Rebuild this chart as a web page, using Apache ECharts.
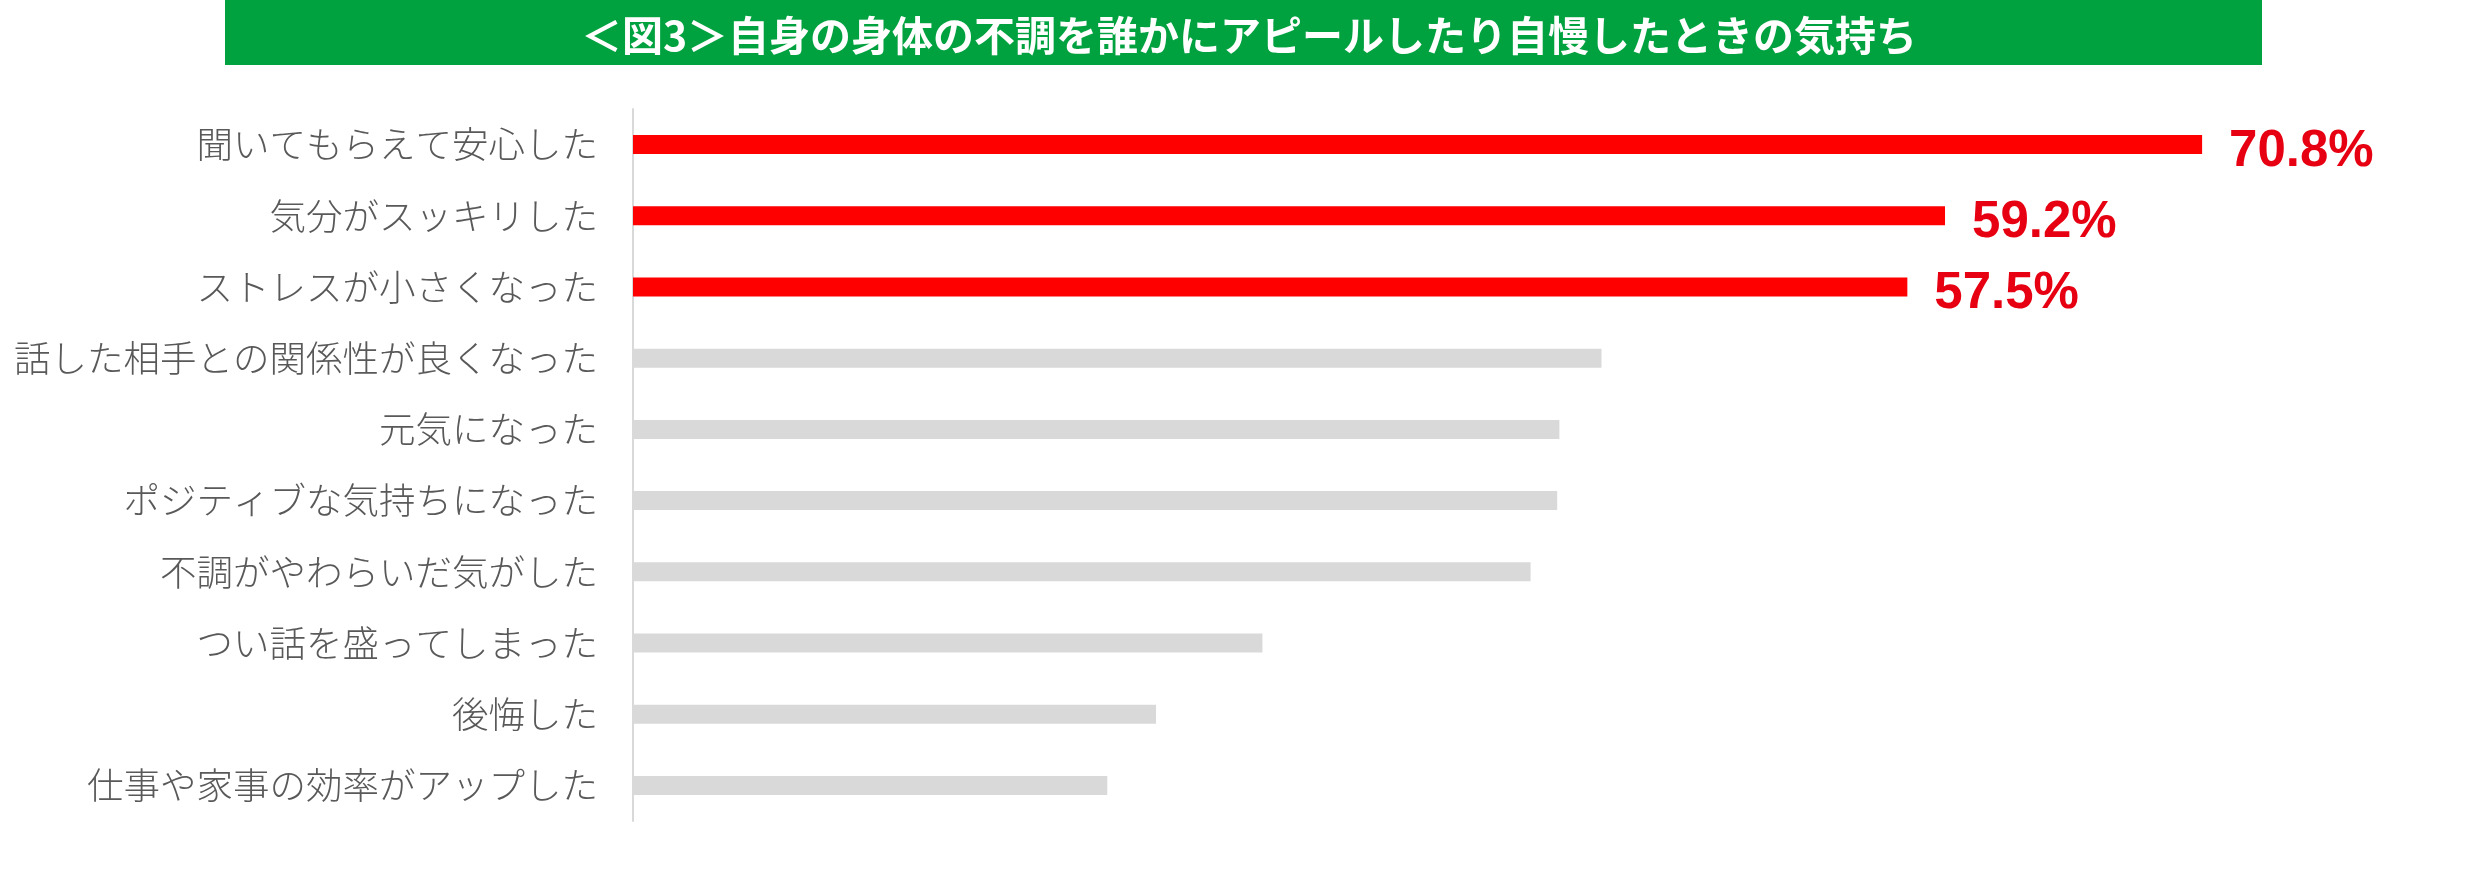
<!DOCTYPE html>
<html lang="ja">
<head>
<meta charset="utf-8">
<title>図3 自身の身体の不調をアピールしたときの気持ち</title>
<script src="https://cdn.jsdelivr.net/npm/echarts@6/dist/echarts.min.js"></script>
<style>
  html, body { margin: 0; padding: 0; background: #fff; }
  #chart { width: 2475px; height: 882px; }
</style>
</head>
<body>
<div id="chart"></div>
<script>
// データ
const chartTitle = '＜図3＞自身の身体の不調を誰かにアピールしたり自慢したときの気持ち';
const categories = [
  '聞いてもらえて安心した',
  '気分がスッキリした',
  'ストレスが小さくなった',
  '話した相手との関係性が良くなった',
  '元気になった',
  'ポジティブな気持ちになった',
  '不調がやわらいだ気がした',
  'つい話を盛ってしまった',
  '後悔した',
  '仕事や家事の効率がアップした'
];
const values = [70.8, 59.2, 57.5, 43.7, 41.8, 41.7, 40.5, 28.4, 23.6, 21.4];
const highlightCount = 3; // 上位3項目を赤で表示

document.addEventListener('DOMContentLoaded', () => {
  const chart = echarts.init(document.getElementById('chart'));

  const option = {
    backgroundColor: '#ffffff',
    animation: false,
    graphic: [{
      type: 'rect',
      left: 225,
      top: 0,
      shape: { width: 2037, height: 65 },
      style: { fill: '#00A13F' },
      z: 0
    }],
    title: {
      text: chartTitle,
      left: 1244,
      textAlign: 'center',
      top: 10,
      textStyle: {
        color: '#ffffff',
        fontSize: 41,
        fontWeight: 'bold',
        fontFamily: '"Noto Sans CJK JP", sans-serif'
      },
      z: 10
    },
    grid: {
      left: 633,
      right: 69,
      top: 109,
      height: 712,
      containLabel: false
    },
    xAxis: {
      type: 'value',
      min: 0,
      max: 80,
      show: false,
      splitLine: { show: false }
    },
    yAxis: {
      type: 'category',
      data: categories,
      inverse: true,
      axisLine: { show: true, lineStyle: { color: '#D9D9D9', width: 2 } },
      axisTick: { show: false },
      axisLabel: {
        margin: 35,
        color: '#595959',
        fontSize: 36.5,
        fontWeight: 300,
        fontFamily: '"Noto Sans CJK JP", sans-serif'
      }
    },
    series: [{
      type: 'bar',
      data: values,
      barWidth: 19,
      itemStyle: {
        color: p => (p.dataIndex < highlightCount ? '#FF0000' : '#D9D9D9')
      },
      label: {
        show: true,
        position: 'right',
        distance: 27,
        offset: [0, 7],
        color: '#E60012',
        fontSize: 51,
        fontWeight: 'bold',
        fontFamily: '"Liberation Sans", Arial, sans-serif',
        formatter: p => (p.dataIndex < highlightCount ? p.value.toFixed(1) + '%' : '')
      }
    }]
  };

  chart.setOption(option);
  window.addEventListener('resize', () => chart.resize());
});
</script>
</body>
</html>
